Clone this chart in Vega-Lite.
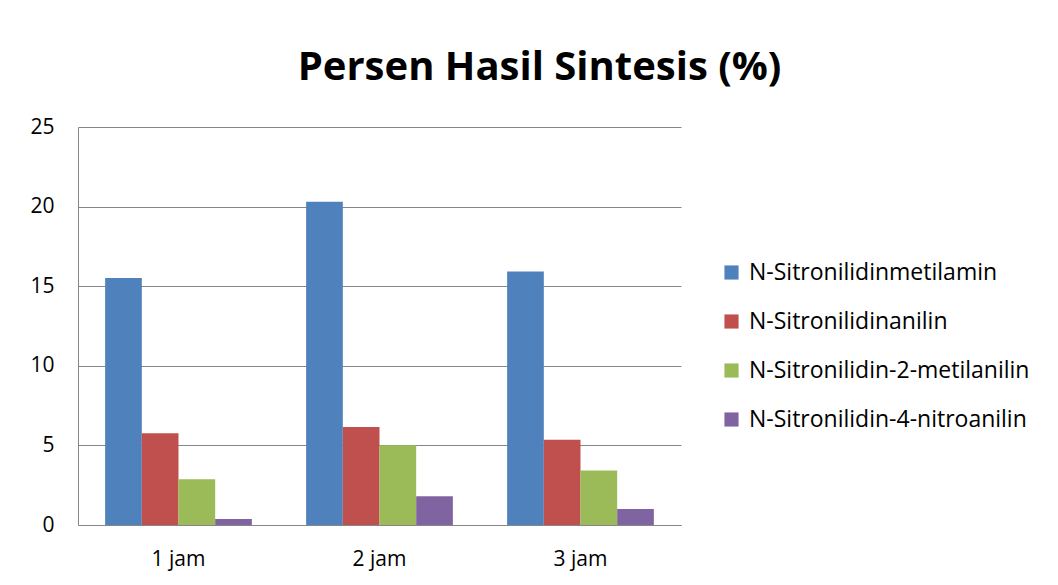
{
  "$schema": "https://vega.github.io/schema/vega-lite/v6.json",
  "width": 603,
  "height": 398,
  "autosize": "none",
  "padding": {"left": 78, "top": 127, "right": 377, "bottom": 60},
  "background": "white",
  "title": {
    "text": "Persen Hasil Sintesis (%)",
    "font": "Open Sans",
    "fontSize": 40,
    "fontWeight": "bold",
    "color": "black",
    "anchor": "middle",
    "dx": 160,
    "offset": 28
  },
  "data": {
    "values": [
      {"waktu": "1 jam", "senyawa": "N-Sitronilidinmetilamin", "persen": 15.52},
      {"waktu": "1 jam", "senyawa": "N-Sitronilidinanilin", "persen": 5.77},
      {"waktu": "1 jam", "senyawa": "N-Sitronilidin-2-metilanilin", "persen": 2.87},
      {"waktu": "1 jam", "senyawa": "N-Sitronilidin-4-nitroanilin", "persen": 0.38},
      {"waktu": "2 jam", "senyawa": "N-Sitronilidinmetilamin", "persen": 20.3},
      {"waktu": "2 jam", "senyawa": "N-Sitronilidinanilin", "persen": 6.16},
      {"waktu": "2 jam", "senyawa": "N-Sitronilidin-2-metilanilin", "persen": 5.01},
      {"waktu": "2 jam", "senyawa": "N-Sitronilidin-4-nitroanilin", "persen": 1.8},
      {"waktu": "3 jam", "senyawa": "N-Sitronilidinmetilamin", "persen": 15.93},
      {"waktu": "3 jam", "senyawa": "N-Sitronilidinanilin", "persen": 5.35},
      {"waktu": "3 jam", "senyawa": "N-Sitronilidin-2-metilanilin", "persen": 3.42},
      {"waktu": "3 jam", "senyawa": "N-Sitronilidin-4-nitroanilin", "persen": 1.0}
    ]
  },
  "mark": {"type": "bar"},
  "encoding": {
    "x": {
      "field": "waktu",
      "type": "nominal",
      "sort": null,
      "scale": {"paddingInner": 0.27, "paddingOuter": 0.135},
      "axis": {
        "title": null,
        "labelAngle": 0,
        "labelFont": "Open Sans",
        "labelFontSize": 21,
        "labelColor": "black",
        "labelPadding": 23,
        "domainColor": "#868686",
        "ticks": false,
        "grid": false
      }
    },
    "xOffset": {
      "field": "senyawa",
      "type": "nominal",
      "sort": ["N-Sitronilidinmetilamin", "N-Sitronilidinanilin", "N-Sitronilidin-2-metilanilin", "N-Sitronilidin-4-nitroanilin"],
      "scale": {"paddingInner": 0, "paddingOuter": 0}
    },
    "y": {
      "field": "persen",
      "type": "quantitative",
      "scale": {"domain": [0, 25], "nice": false},
      "axis": {
        "title": null,
        "values": [0, 5, 10, 15, 20, 25],
        "labelFont": "Open Sans",
        "labelFontSize": 21,
        "labelColor": "black",
        "labelPadding": 24,
        "ticks": false,
        "domainColor": "#868686",
        "gridColor": "#868686",
        "gridWidth": 1
      }
    },
    "color": {
      "field": "senyawa",
      "type": "nominal",
      "sort": ["N-Sitronilidinmetilamin", "N-Sitronilidinanilin", "N-Sitronilidin-2-metilanilin", "N-Sitronilidin-4-nitroanilin"],
      "scale": {"range": ["#4F81BD", "#C0504D", "#9BBB59", "#8064A2"]},
      "legend": {
        "title": null,
        "orient": "none",
        "legendX": 642,
        "legendY": 134,
        "symbolType": "square",
        "symbolSize": 200,
        "symbolStrokeWidth": 0,
        "labelFont": "Open Sans",
        "labelFontSize": 23,
        "labelLimit": 0,
        "labelColor": "black",
        "labelOffset": 6,
        "rowPadding": 25
      }
    }
  },
  "config": {
    "view": {"stroke": null}
  }
}
